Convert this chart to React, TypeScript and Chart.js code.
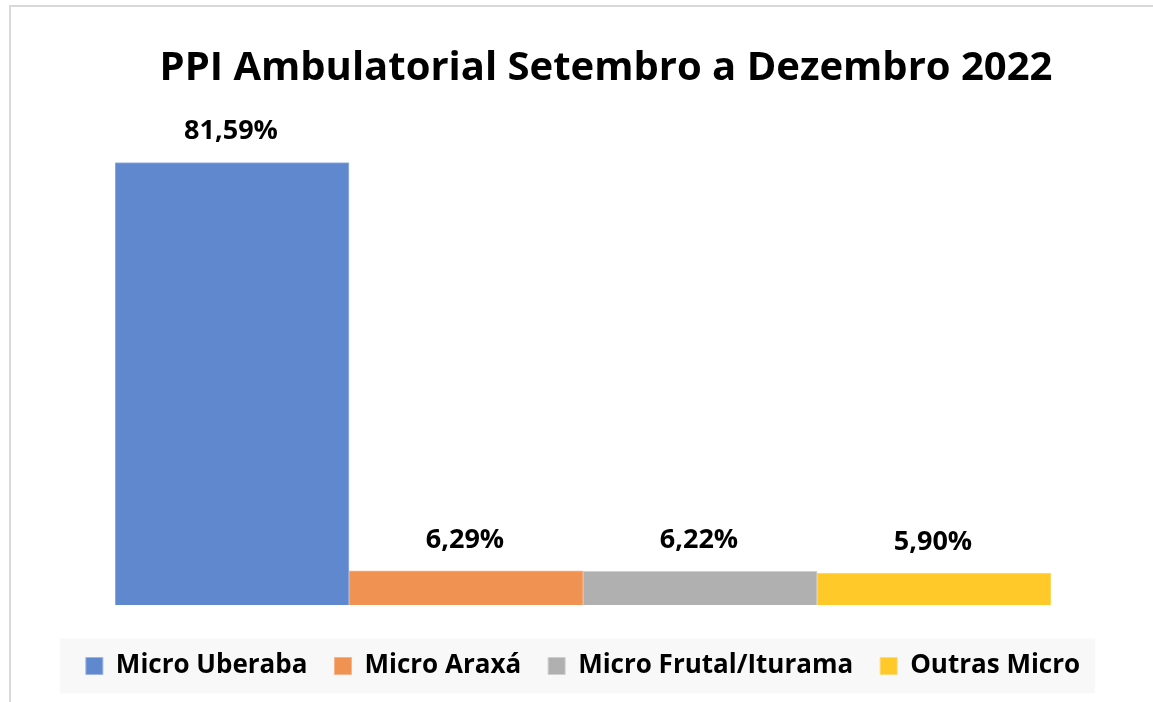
import React, { useEffect, useRef } from "react";
import { Chart, registerables } from "chart.js";

Chart.register(...registerables);

const titleText = "PPI Ambulatorial Setembro a Dezembro 2022";
const seriesNames = ["Micro Uberaba", "Micro Araxá", "Micro Frutal/Iturama", "Outras Micro"];
const seriesValues = [81.59, 6.29, 6.22, 5.9];
const fillColors = ["#6088CF", "#F09252", "#B0B0B0", "#FFC92A"];
const borderColors = ["#9DB5E3", "#F6B48A", "#CFCFCF", "#FFDB75"];
const categories = [""];

const FONT = "'Open Sans', sans-serif";
const TITLE_SHIFT = 23;

const dataLabels = {
  id: "dataLabels",
  afterDatasetsDraw(chart: any) {
    const ctx = chart.ctx;
    ctx.save();
    ctx.font = `bold 27px ${FONT}`;
    ctx.fillStyle = "#000";
    ctx.textAlign = "center";
    ctx.textBaseline = "middle";
    chart.data.datasets.forEach((ds: any, i: number) => {
      const meta = chart.getDatasetMeta(i);
      const el = meta.data[0];
      if (!el) return;
      const v = ds.data[0] as number;
      ctx.fillText(v.toFixed(2).replace(".", ",") + "%", el.x - 1, el.y - 31);
    });
    ctx.restore();
  },
};

const titleShift = {
  id: "titleShift",
  afterLayout(chart: any) {
    const t = chart.titleBlock;
    if (t) {
      t.left += TITLE_SHIFT;
      t.right += TITLE_SHIFT;
    }
  },
};

const legendBg = {
  id: "legendBg",
  beforeDraw(chart: any) {
    const lg = chart.legend;
    if (!lg || !lg.legendHitBoxes || !lg.legendHitBoxes.length) return;
    const hb = lg.legendHitBoxes;
    const left = Math.min(...hb.map((h: any) => h.left)) - 26;
    const right = Math.max(...hb.map((h: any) => h.left + h.width)) + 15;
    const cy = hb[0].top + hb[0].height / 2;
    const ctx = chart.ctx;
    ctx.save();
    ctx.fillStyle = "#F8F8F8";
    ctx.fillRect(left, cy - 27.5, right - left, 55);
    ctx.restore();
  },
};

export default function App() {
  const ref = useRef<HTMLCanvasElement>(null);
  useEffect(() => {
    if (!ref.current) return;
    const chart = new Chart(ref.current, {
      type: "bar",
      data: {
        labels: categories,
        datasets: seriesNames.map((name, i) => ({
          label: name,
          data: [seriesValues[i]],
          backgroundColor: fillColors[i],
          borderColor: borderColors[i],
          borderWidth: 1,
          barPercentage: 1,
          categoryPercentage: 1,
          yAxisID: "y",
        })),
      },
      options: {
        responsive: false,
        animation: false,
        maintainAspectRatio: false,
        layout: { padding: { left: 13, right: 0, top: 0, bottom: 13 } },
        scales: {
          x: {
            ticks: { display: false },
            grid: { display: false },
            border: { display: false },
            afterFit: (s: any) => {
              s.height = 21;
            },
          },
          y: {
            position: "left",
            min: 0,
            max: 90,
            ticks: { display: false },
            grid: { display: false },
            border: { display: false },
            afterFit: (s: any) => {
              s.width = 102;
            },
          },
          y2: {
            position: "right",
            min: 0,
            max: 90,
            ticks: { display: false },
            grid: { display: false },
            border: { display: false },
            afterFit: (s: any) => {
              s.width = 102;
            },
          },
        },
        plugins: {
          title: {
            display: true,
            text: titleText,
            color: "#000",
            font: { family: FONT, size: 40, weight: "bold", lineHeight: 1.2 },
            padding: { top: 45, bottom: 24 },
          },
          legend: {
            position: "bottom",
            labels: {
              color: "#000",
              font: { family: FONT, size: 26, weight: "bold" },
              boxWidth: 17,
              boxHeight: 17,
              padding: 27,
            },
          },
          tooltip: { enabled: false },
        },
      },
      plugins: [dataLabels, legendBg, titleShift],
    });
    return () => chart.destroy();
  }, []);
  return (
    <div style={{ position: "fixed", left: 0, top: 0, width: 1153, height: 702, background: "#fff" }}>
      <div
        style={{
          position: "absolute",
          left: 9,
          top: 5,
          right: -10,
          bottom: -10,
          borderTop: "2px solid #D9D9D9",
          borderLeft: "2px solid #D9D9D9",
        }}
      />
      <canvas ref={ref} width={1153} height={702} style={{ position: "absolute", left: 0, top: 0 }} />
    </div>
  );
}
